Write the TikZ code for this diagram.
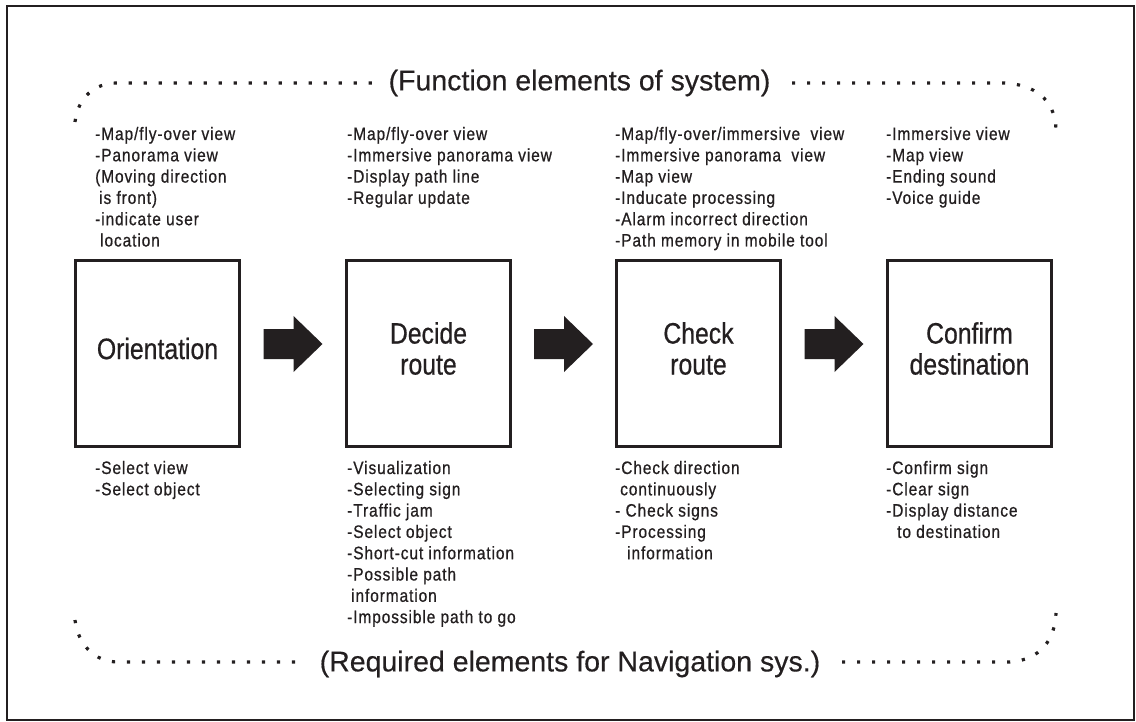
\documentclass[tikz,border=0pt]{standalone}
\usepackage{fontspec}
\setmainfont{Liberation Sans}
\newfontfamily\labelfont[FakeStretch=0.84,FakeBold=0.6]{Liberation Sans}
\newfontfamily\itemfont[FakeStretch=0.86,LetterSpace=5,FakeBold=0.7]{Liberation Sans}
\newfontfamily\headfont[FakeBold=0.4]{Liberation Sans}
\usetikzlibrary{calc}
\definecolor{ink}{HTML}{231F20}
% one left-aligned column whose baseline is its first line
\newcommand{\itemcol}[1]{\begin{tabular}[t]{@{}l@{}}#1\end{tabular}}

\begin{document}
\begin{tikzpicture}[x=1pt,y=-1pt,
  stagebox/.style={draw=ink, line width=2.7pt, minimum width=164.3pt,
    minimum height=186.3pt, inner sep=0pt},
  stagelabel/.style={inner sep=0pt, align=center, text=ink,
    font=\labelfont\fontsize{29.5}{31}\selectfont},
  itemtext/.style={anchor=base west, inner sep=0pt, text=ink,
    font=\itemfont\fontsize{18}{21.3}\selectfont},
  heading/.style={inner sep=0pt, text=ink, font=\headfont\fontsize{28.5}{30}\selectfont},
  dotline/.style={draw=ink, line width=3.2pt, dash pattern=on 3.2pt off 11.8pt},
  blockarrow/.style={fill=ink}]

\useasboundingbox (0,0) rectangle (1136,722);
\draw[ink, line width=2pt] (7,6) rectangle (1134,720);

% headings with their dotted brackets
\node[heading] (fun) at (579.5,83) {(Function elements of system)};
\node[heading] (req) at (570,664) {(Required elements for Navigation sys.)};

\draw[dotline] (75,122) .. controls (78,97) and (95,83) .. (117,83) -- (380,83);
\draw[dotline] (792,83) -- (1003,83) .. controls (1035,84) and (1055,100) .. (1056,129);
\draw[dotline] (75,620) .. controls (78,645) and (95,662) .. (118,662) -- (297,662);
\draw[dotline] (842,662) -- (1010,662) .. controls (1040,660) and (1055,640) .. (1056,613);

% the four stages
\node[stagebox] (ori) at (157.5,353.5) {};
\node[stagebox] (dec) at (428.5,353.5) {};
\node[stagebox] (chk) at (698.5,353.5) {};
\node[stagebox] (cnf) at (969.5,353.5) {};
\node[stagelabel] (oriT) at ([yshift=5]ori.center) {Orientation};
\node[stagelabel] (decT) at ([yshift=5]dec.center) {Decide\\route};
\node[stagelabel] (chkT) at ([yshift=5]chk.center) {Check\\route};
\node[stagelabel] (cnfT) at ([yshift=5]cnf.center) {Confirm\\destination};

% block arrows between the stages
\coordinate (a1) at ($(ori.east)!.5!(dec.west)+(0,-9.5)$);
\coordinate (a2) at ($(dec.east)!.5!(chk.west)+(0,-9.5)$);
\coordinate (a3) at ($(chk.east)!.5!(cnf.west)+(0,-9.5)$);
\foreach \a in {a1,a2,a3}{
  \fill[blockarrow] (\a) ++(-29.5,-15) -- ++(30,0) -- ++(0,-13) -- ++(29,28)
    -- ++(-29,28) -- ++(0,-13) -- ++(-30,0) -- cycle;
}

% function elements above each stage
\node[itemtext] (oriF) at (95,140) {\itemcol{-Map/fly-over view\\-Panorama view\\(Moving direction\\\hspace*{4pt}is front)\\-indicate user\\\hspace*{5pt}location}};
\node[itemtext] (decF) at (347,140) {\itemcol{-Map/fly-over view\\-Immersive panorama view\\-Display path line\\-Regular update}};
\node[itemtext] (chkF) at (615,140) {\itemcol{-Map/fly-over/immersive\ \ view\\-Immersive panorama\ \ view\\-Map view\\-Inducate processing\\-Alarm incorrect direction\\-Path memory in mobile tool}};
\node[itemtext] (cnfF) at (886,140) {\itemcol{-Immersive view\\-Map view\\-Ending sound\\-Voice guide}};

% required elements below each stage
\node[itemtext] (oriR) at (95,474) {\itemcol{-Select view\\-Select object}};
\node[itemtext] (decR) at (347,474) {\itemcol{-Visualization\\-Selecting sign\\-Traffic jam\\-Select object\\-Short-cut information\\-Possible path\\\hspace*{4pt}information\\-Impossible path to go}};
\node[itemtext] (chkR) at (615,474) {\itemcol{-Check direction\\\hspace*{5pt}continuously\\- Check signs\\-Processing\\\hspace*{12pt}information}};
\node[itemtext] (cnfR) at (886,474) {\itemcol{-Confirm sign\\-Clear sign\\-Display distance\\\hspace*{11pt}to destination}};
\end{tikzpicture}
\end{document}
